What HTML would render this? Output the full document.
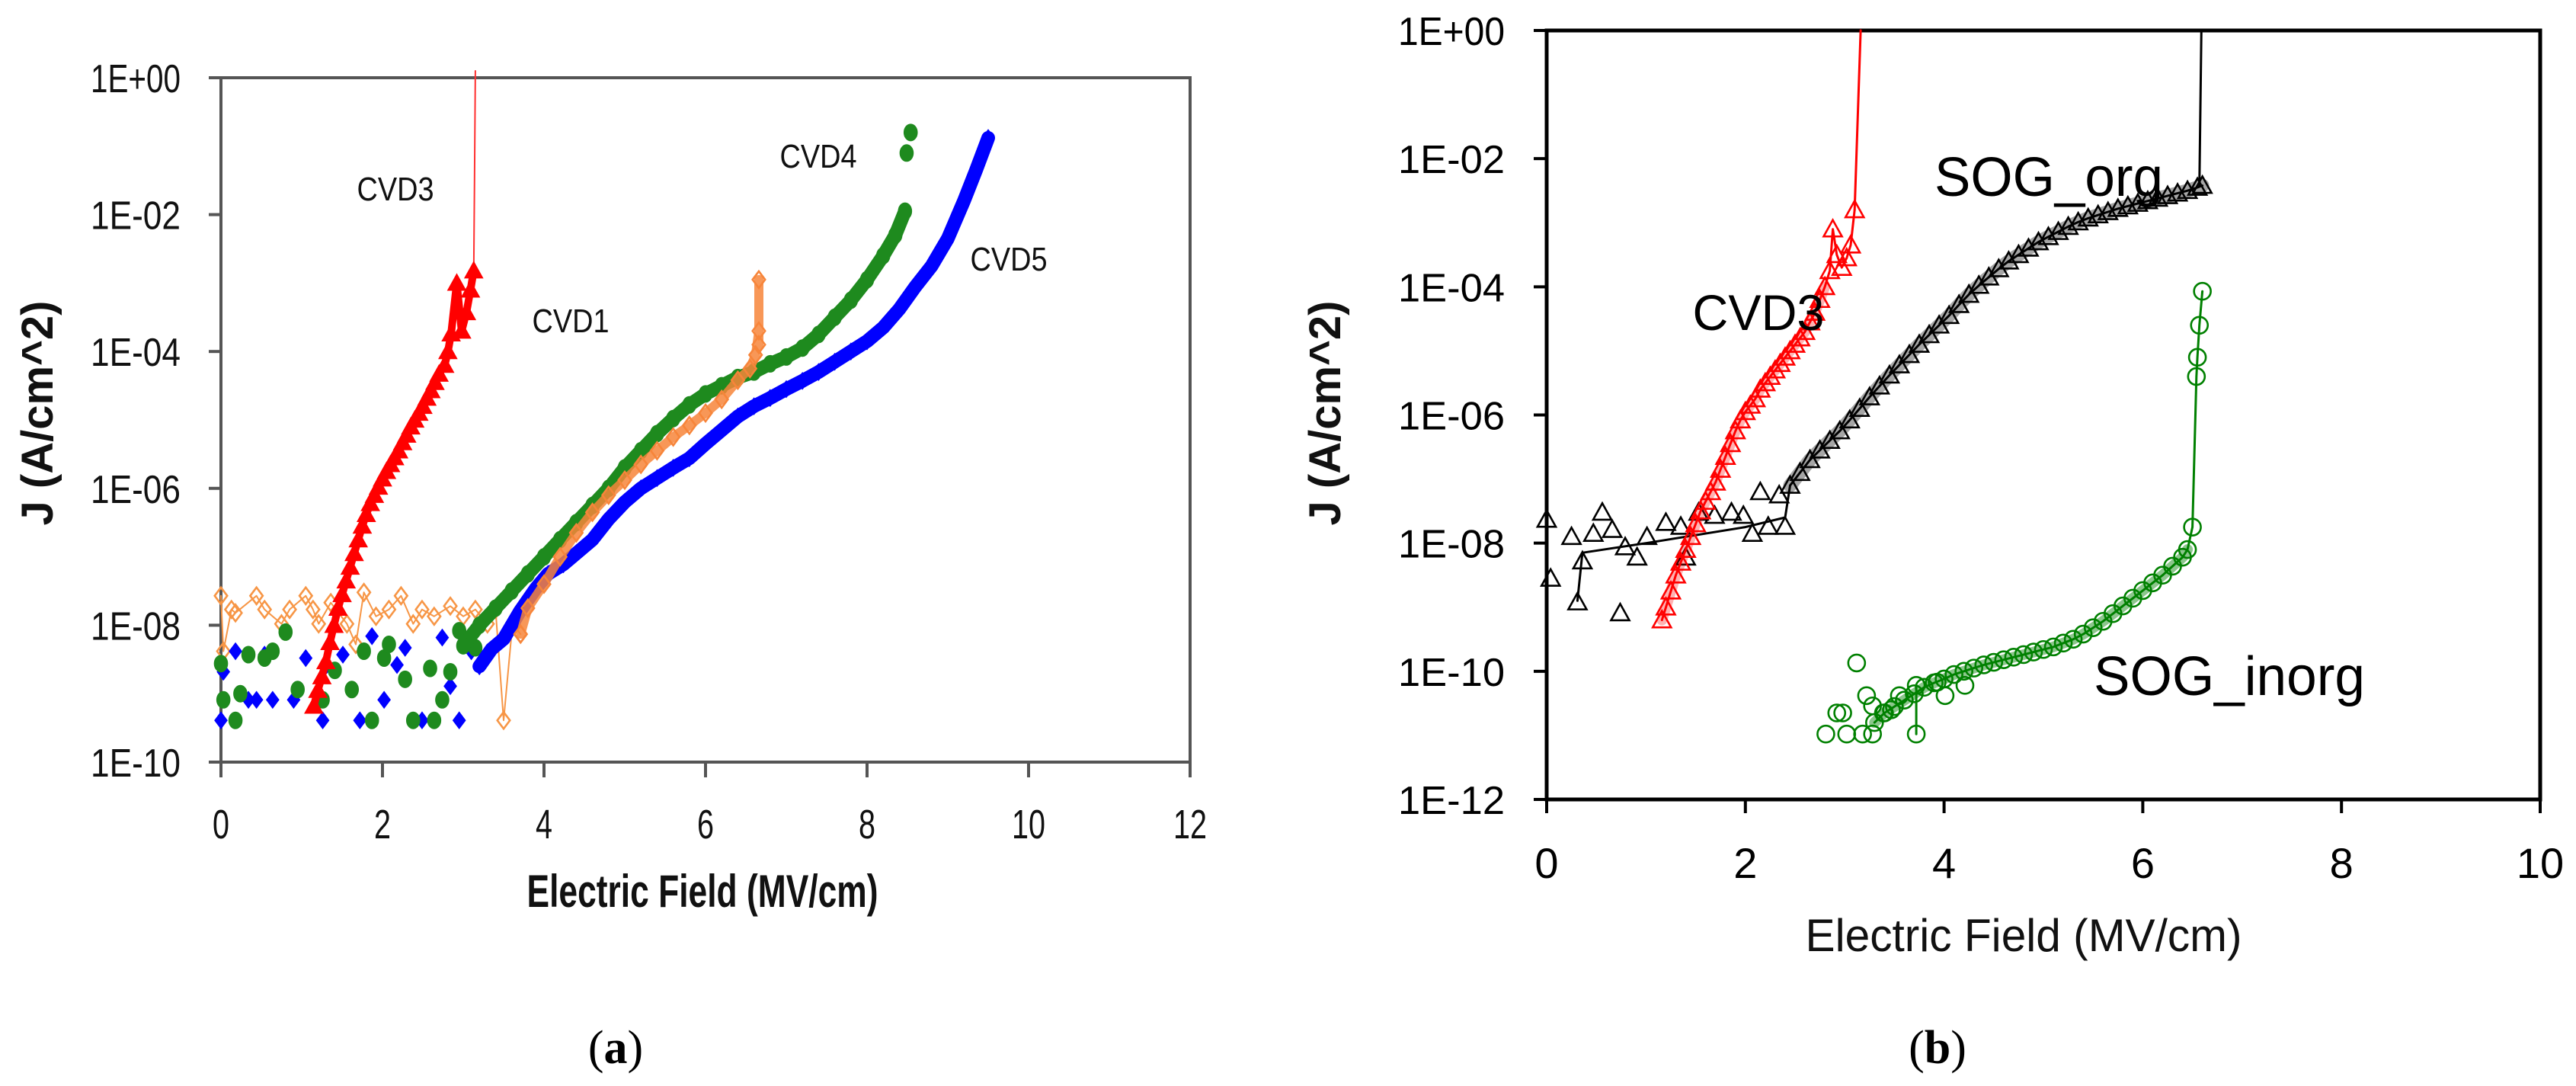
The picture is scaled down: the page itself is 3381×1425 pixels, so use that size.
<!DOCTYPE html>
<html><head><meta charset="utf-8"><style>html,body{margin:0;padding:0;background:#fff}svg{display:block}</style></head>
<body>
<svg id="fig" width="3381" height="1425" viewBox="0 0 3381 1425" xmlns="http://www.w3.org/2000/svg" font-family="'Liberation Sans', sans-serif">
<rect width="3381" height="1425" fill="#fff"/>
<g id="pa"></g>
<g id="pb"></g>
<text x="808" y="1395" text-anchor="middle" font-family="'Liberation Serif', serif" font-size="62">(<tspan font-weight="bold">a</tspan>)</text>
<text x="2543" y="1395" text-anchor="middle" font-family="'Liberation Serif', serif" font-size="62">(<tspan font-weight="bold">b</tspan>)</text>
</svg>
<script>
// ---------- Panel A data ----------
const aXTicks = [0,2,4,6,8,10,12];
const aYTicks = [0,-2,-4,-6,-8,-10];
const aYTickLabels = ["1E+00","1E-02","1E-04","1E-06","1E-08","1E-10"];
const aCvd3 = [[1.15,-9.18],[1.2,-8.95],[1.25,-8.75],[1.3,-8.53],[1.35,-8.25],[1.4,-8.0],[1.45,-7.75],[1.5,-7.55],[1.55,-7.35],[1.6,-7.15],[1.65,-6.95],[1.7,-6.75],[1.75,-6.55],[1.8,-6.38],[1.85,-6.22],[1.9,-6.1],[1.95,-5.98],[2.0,-5.86],[2.05,-5.75],[2.1,-5.65],[2.15,-5.55],[2.2,-5.45],[2.25,-5.33],[2.3,-5.22],[2.35,-5.1],[2.4,-5.0],[2.45,-4.9],[2.5,-4.8],[2.55,-4.68],[2.6,-4.57],[2.65,-4.45],[2.7,-4.33],[2.77,-4.2],[2.81,-4.0],[2.85,-3.74],[2.92,-3.0],[2.98,-3.7],[3.04,-3.43],[3.09,-3.1],[3.13,-2.82]];
const aCvd3Tail = [[3.13,-2.82],[3.14,-1.5],[3.15,0.1]];
const aCvd4Noise = [[0,-8.56],[0.03,-9.09],[0.18,-9.39],[0.24,-9.0],[0.34,-8.43],[0.54,-8.48],[0.64,-8.38],[0.8,-8.1],[0.95,-8.94],[1.26,-9.09],[1.41,-8.66],[1.62,-8.94],[1.77,-8.38],[1.87,-9.39],[2.02,-8.48],[2.08,-8.28],[2.28,-8.79],[2.38,-9.39],[2.59,-8.63],[2.64,-9.39],[2.74,-9.09],[2.84,-8.68],[2.95,-8.08],[3.15,-8.33]];
const aCvd4 = [[3.0,-8.3],[3.2,-8.0],[3.4,-7.75],[3.6,-7.5],[3.8,-7.25],[4.0,-7.0],[4.2,-6.75],[4.4,-6.5],[4.6,-6.25],[4.8,-6.0],[5.0,-5.7],[5.2,-5.45],[5.4,-5.2],[5.6,-4.98],[5.8,-4.78],[6.0,-4.62],[6.2,-4.5],[6.4,-4.38],[6.6,-4.3],[6.8,-4.18],[7.0,-4.08],[7.2,-3.95],[7.4,-3.75],[7.6,-3.5],[7.8,-3.25],[8.0,-2.95],[8.2,-2.6],[8.35,-2.3],[8.47,-1.95]];
const aCvd4Top = [[8.49,-1.1],[8.54,-0.8]];
const aCvd5Noise = [[0,-9.39],[0.03,-8.68],[0.18,-8.38],[0.34,-9.09],[0.44,-9.09],[0.54,-8.43],[0.64,-9.09],[0.9,-9.09],[1.05,-8.48],[1.26,-9.39],[1.31,-8.58],[1.51,-8.43],[1.72,-9.39],[1.87,-8.16],[2.02,-9.09],[2.18,-8.58],[2.28,-8.33],[2.49,-9.39],[2.74,-8.18],[2.84,-8.89],[2.95,-9.39],[3.1,-8.38]];
const aCvd5 = [[3.2,-8.6],[3.35,-8.35],[3.5,-8.2],[3.7,-7.8],[3.9,-7.46],[4.05,-7.25],[4.24,-7.11],[4.4,-6.95],[4.6,-6.75],[4.8,-6.45],[5.0,-6.2],[5.2,-6.0],[5.4,-5.85],[5.6,-5.7],[5.8,-5.56],[6.0,-5.35],[6.2,-5.15],[6.4,-4.95],[6.6,-4.8],[6.8,-4.68],[7.0,-4.55],[7.2,-4.43],[7.4,-4.3],[7.6,-4.15],[7.8,-4.0],[8.0,-3.85],[8.2,-3.65],[8.4,-3.38],[8.6,-3.05],[8.8,-2.75],[9.0,-2.35],[9.2,-1.8],[9.35,-1.35],[9.5,-0.88]];
const aCvd1Noise = [[0,-7.57],[0.03,-8.38],[0.13,-7.77],[0.18,-7.82],[0.44,-7.57],[0.54,-7.77],[0.75,-7.98],[0.85,-7.77],[1.05,-7.57],[1.14,-7.77],[1.21,-7.98],[1.36,-7.67],[1.56,-7.98],[1.67,-8.28],[1.77,-7.52],[1.92,-7.87],[2.08,-7.77],[2.23,-7.57],[2.38,-7.98],[2.49,-7.77],[2.64,-7.87],[2.84,-7.72],[3.0,-7.87],[3.15,-7.77],[3.3,-7.98],[3.4,-7.77],[3.5,-9.39],[3.61,-7.98],[3.71,-8.13]];
const aCvd1 = [[3.71,-8.13],[3.8,-7.75],[4.0,-7.4],[4.2,-7.0],[4.4,-6.65],[4.6,-6.35],[4.8,-6.1],[5.0,-5.88],[5.2,-5.65],[5.4,-5.45],[5.6,-5.25],[5.8,-5.08],[6.0,-4.9],[6.2,-4.7],[6.4,-4.42],[6.55,-4.25],[6.62,-4.05],[6.66,-3.7],[6.66,-2.95],[6.66,-3.9]];

// ---------- Panel B data ----------
const bXTicks = [0,2,4,6,8,10];
const bYTicks = [0,-2,-4,-6,-8,-10,-12];
const bYTickLabels = ["1E+00","1E-02","1E-04","1E-06","1E-08","1E-10","1E-12"];
const bCvd3 = [[1.16,-9.2],[1.2,-9.0],[1.25,-8.75],[1.3,-8.5],[1.35,-8.3],[1.4,-8.1],[1.45,-7.9],[1.5,-7.7],[1.55,-7.5],[1.6,-7.35],[1.65,-7.2],[1.7,-7.05],[1.75,-6.85],[1.8,-6.65],[1.85,-6.45],[1.9,-6.25],[1.95,-6.08],[2.0,-5.95],[2.05,-5.85],[2.1,-5.75],[2.15,-5.6],[2.2,-5.5],[2.25,-5.4],[2.3,-5.3],[2.35,-5.2],[2.4,-5.1],[2.45,-5.0],[2.5,-4.9],[2.55,-4.8],[2.6,-4.7],[2.65,-4.55],[2.7,-4.4],[2.75,-4.2],[2.8,-4.0],[2.85,-3.75],[2.88,-3.1],[2.92,-3.5],[2.97,-3.7],[3.02,-3.55],[3.06,-3.35],[3.1,-2.8]];
const bCvd3Tail = [[3.1,-2.8],[3.16,0]];
const bOrgNoise = [[0,-7.63],[0.04,-8.55],[0.25,-7.9],[0.31,-8.92],[0.36,-8.28],[0.47,-7.85],[0.56,-7.52],[0.66,-7.79],[0.74,-9.09],[0.79,-8.06],[0.91,-8.22],[1.01,-7.9],[1.2,-7.68],[1.35,-7.74],[1.4,-8.22],[1.53,-7.52],[1.69,-7.57],[1.86,-7.52],[1.98,-7.57],[2.07,-7.85],[2.15,-7.2],[2.23,-7.74],[2.34,-7.25],[2.4,-7.74]];
const bOrgFit = [[0.31,-8.9],[0.36,-8.15],[1.0,-8.0],[2.0,-7.75],[2.4,-7.6],[2.45,-7.1]];
const bOrg = [[2.45,-7.1],[2.55,-6.9],[2.65,-6.7],[2.75,-6.55],[2.85,-6.4],[2.95,-6.25],[3.05,-6.08],[3.15,-5.9],[3.25,-5.72],[3.35,-5.55],[3.45,-5.38],[3.55,-5.22],[3.65,-5.06],[3.75,-4.9],[3.85,-4.75],[3.95,-4.6],[4.05,-4.45],[4.15,-4.28],[4.25,-4.12],[4.35,-3.98],[4.45,-3.85],[4.55,-3.72],[4.65,-3.6],[4.75,-3.5],[4.85,-3.4],[4.95,-3.3],[5.05,-3.22],[5.15,-3.14],[5.25,-3.06],[5.35,-2.99],[5.45,-2.93],[5.55,-2.88],[5.65,-2.83],[5.75,-2.78],[5.85,-2.74],[5.95,-2.7],[6.05,-2.66],[6.15,-2.62],[6.25,-2.58],[6.35,-2.54],[6.45,-2.5],[6.55,-2.45],[6.6,-2.42]];
const bOrgTail = [[6.57,-2.42],[6.59,0]];
const bInorgNoise = [[2.81,-10.98],[2.92,-10.65],[2.98,-10.65],[3.02,-10.98],[3.12,-9.87],[3.18,-10.98],[3.22,-10.38],[3.28,-10.98],[3.28,-10.54],[3.39,-10.65],[3.47,-10.6],[3.55,-10.38],[3.72,-10.98],[3.72,-10.22],[3.93,-10.17],[4.01,-10.38],[4.21,-10.22]];
const bInorg = [[3.3,-10.8],[3.4,-10.65],[3.5,-10.55],[3.6,-10.45],[3.7,-10.35],[3.8,-10.25],[3.9,-10.18],[4.0,-10.12],[4.1,-10.05],[4.2,-10.0],[4.3,-9.95],[4.4,-9.9],[4.5,-9.86],[4.6,-9.82],[4.7,-9.78],[4.8,-9.74],[4.9,-9.7],[5.0,-9.66],[5.1,-9.62],[5.2,-9.56],[5.3,-9.5],[5.4,-9.42],[5.5,-9.32],[5.6,-9.22],[5.7,-9.1],[5.8,-8.98],[5.9,-8.86],[6.0,-8.74],[6.1,-8.62],[6.2,-8.5],[6.3,-8.36],[6.4,-8.22],[6.45,-8.1],[6.5,-7.75],[6.54,-5.4],[6.55,-5.1],[6.57,-4.6],[6.6,-4.07]];

const NS = "http://www.w3.org/2000/svg";
function mk(parent, tag, attrs, text) {
  const e = document.createElementNS(NS, tag);
  for (const k in attrs) e.setAttribute(k, attrs[k]);
  if (text !== undefined) e.textContent = text;
  parent.appendChild(e);
  return e;
}
const ax = v => 290 + v * (1562 - 290) / 12;
const ay = l => 102 + (-l) * (1000 - 102) / 10;
const bx = v => 2030 + v * (3334 - 2030) / 10;
const by = l => 40 + (-l) * (1049 - 40) / 12;

function polyline(g, pts, fx, fy, stroke, w, name, opacity) {
  const e = mk(g, "polyline", {points: pts.map(p => fx(p[0]).toFixed(1) + "," + fy(p[1]).toFixed(1)).join(" "), fill: "none", stroke: stroke, "stroke-width": w, "stroke-linejoin": "round", "stroke-linecap": "round", opacity: opacity || 1});
  
  
  return e;
}
function markers(g, pts, fx, fy, shape, color, size, filled, name) {
  const grp = mk(g, "g", {});
  
  
  pts.forEach(p => {
    const x = fx(p[0]), y = fy(p[1]), s = size / 2;
    let e;
    const st = filled ? {fill: color, stroke: color, "stroke-width": 1} : {fill: "none", stroke: color, "stroke-width": 2.6};
    if (shape === "tri") e = mk(grp, "polygon", Object.assign({points: `${x},${y - s} ${x - s},${y + s * 0.8} ${x + s},${y + s * 0.8}`}, st));
    else if (shape === "dia") e = mk(grp, "polygon", Object.assign({points: `${x},${y - s} ${x + s * 0.75},${y} ${x},${y + s} ${x - s * 0.75},${y}`}, st));
    else if (shape === "oct") e = mk(grp, "ellipse", Object.assign({cx: x, cy: y, rx: s * 0.8, ry: s}, st));
    else e = mk(grp, "circle", Object.assign({cx: x, cy: y, r: s}, st));
    
    
  });
}

// ---------- Panel A ----------
const pa = document.getElementById("pa");
const frameA = mk(pa, "rect", {x: 290, y: 102, width: 1272, height: 898, fill: "none", stroke: "#555", "stroke-width": 4});


aYTicks.forEach((t, i) => {
  const l = mk(pa, "line", {x1: 274, x2: 290, y1: ay(t), y2: ay(t), stroke: "#555", "stroke-width": 4});
  
  
  const tx = mk(pa, "text", {x: 237, y: ay(t) + 19, "text-anchor": "end", "font-size": 52, textLength: 118, lengthAdjust: "spacingAndGlyphs", fill: "#111"}, aYTickLabels[i]);
  
  
});
aXTicks.forEach(t => {
  const l = mk(pa, "line", {x1: ax(t), x2: ax(t), y1: 1000, y2: 1020, stroke: "#555", "stroke-width": 4});
  
  
  const s = String(t);
  const tx = mk(pa, "text", {x: ax(t), y: 1100, "text-anchor": "middle", "font-size": 54, textLength: s.length * 22, lengthAdjust: "spacingAndGlyphs", fill: "#111"}, s);
  
  
});
const axt = mk(pa, "text", {x: 922, y: 1190, "text-anchor": "middle", "font-size": 60, "font-weight": "bold", textLength: 461, lengthAdjust: "spacingAndGlyphs", fill: "#111"}, "Electric Field (MV/cm)");


const ayt = mk(pa, "text", {x: 0, y: 0, transform: "translate(69,542) rotate(-90)", "text-anchor": "middle", "font-size": 58, "font-weight": "bold", textLength: 295, lengthAdjust: "spacingAndGlyphs", fill: "#111"}, "J (A/cm^2)");



polyline(pa, aCvd1Noise, ax, ay, "#f79646", 2, "cvd1-noise-line");
markers(pa, aCvd1Noise, ax, ay, "dia", "#f79646", 22, false, "cvd1-noise-markers");
markers(pa, aCvd5Noise, ax, ay, "dia", "#0000ff", 22, true, "cvd5-noise-markers");
markers(pa, aCvd4Noise, ax, ay, "oct", "#1e8a1e", 22, true, "cvd4-noise-markers");
polyline(pa, aCvd5, ax, ay, "#0000ff", 18, "cvd5-band");
markers(pa, aCvd5, ax, ay, "dia", "#0000ff", 22, true, "cvd5-markers");
polyline(pa, aCvd4, ax, ay, "#1e8a1e", 18, "cvd4-band");
markers(pa, aCvd4, ax, ay, "oct", "#1e8a1e", 22, true, "cvd4-markers");
markers(pa, aCvd4Top, ax, ay, "oct", "#1e8a1e", 22, true, "cvd4-top-markers");
polyline(pa, aCvd1, ax, ay, "#f7853a", 12, "cvd1-band", 0.85);
markers(pa, aCvd1, ax, ay, "dia", "#f7853a", 22, false, "cvd1-markers");
polyline(pa, aCvd3Tail, ax, ay, "#ff3030", 2, "cvd3-breakdown-line");
polyline(pa, aCvd3, ax, ay, "#ff0000", 10, "cvd3-band");
markers(pa, aCvd3, ax, ay, "tri", "#ff0000", 24, true, "cvd3-markers");

[["CVD3", 519, 263, "cvd3-label"], ["CVD4", 1074, 220, "cvd4-label"], ["CVD5", 1324, 355, "cvd5-label"], ["CVD1", 749, 436, "cvd1-label"]].forEach(a => {
  const t = mk(pa, "text", {x: a[1], y: a[2], "text-anchor": "middle", "font-size": 44, textLength: 101, lengthAdjust: "spacingAndGlyphs", fill: "#111"}, a[0]);
  
  
});

// ---------- Panel B ----------
const pb = document.getElementById("pb");
const frameB = mk(pb, "rect", {x: 2030, y: 40, width: 1304, height: 1009, fill: "none", stroke: "#000", "stroke-width": 5});


bYTicks.forEach((t, i) => {
  const l = mk(pb, "line", {x1: 2013, x2: 2030, y1: by(t), y2: by(t), stroke: "#000", "stroke-width": 4});
  
  
  const tx = mk(pb, "text", {x: 1975, y: by(t) + 19, "text-anchor": "end", "font-size": 52, textLength: 140, lengthAdjust: "spacingAndGlyphs", fill: "#000"}, bYTickLabels[i]);
  
  
});
bXTicks.forEach(t => {
  const l = mk(pb, "line", {x1: bx(t), x2: bx(t), y1: 1049, y2: 1067, stroke: "#000", "stroke-width": 4});
  
  
  const s = String(t);
  const tx = mk(pb, "text", {x: bx(t), y: 1152, "text-anchor": "middle", "font-size": 56, fill: "#000"}, s);
  
  
});
const bxt = mk(pb, "text", {x: 2656, y: 1248, "text-anchor": "middle", "font-size": 60, textLength: 573, lengthAdjust: "spacingAndGlyphs", fill: "#111"}, "Electric Field (MV/cm)");


const byt = mk(pb, "text", {x: 0, y: 0, transform: "translate(1759,542) rotate(-90)", "text-anchor": "middle", "font-size": 58, "font-weight": "bold", textLength: 295, lengthAdjust: "spacingAndGlyphs", fill: "#111"}, "J (A/cm^2)");



polyline(pb, bOrgFit, bx, by, "#000", 3, "sog-org-fit-line");
markers(pb, bOrgNoise, bx, by, "tri", "#000", 24, false, "sog-org-noise-markers");
polyline(pb, bOrg, bx, by, "#000", 18, "sog-org-band", 0.35);
polyline(pb, bOrg, bx, by, "#000", 3, "sog-org-line");
markers(pb, bOrg, bx, by, "tri", "#000", 24, false, "sog-org-markers");
polyline(pb, bOrgTail, bx, by, "#000", 3, "sog-org-breakdown-line");
polyline(pb, bCvd3.slice(0, 34), bx, by, "#ff0000", 14, "cvd3-band", 0.3);
polyline(pb, bCvd3, bx, by, "#ff0000", 3, "cvd3-line");
markers(pb, bCvd3, bx, by, "tri", "#ff0000", 24, false, "cvd3-markers");
polyline(pb, bCvd3Tail, bx, by, "#ff0000", 3, "cvd3-breakdown-line");
polyline(pb, bInorgNoise.slice(12, 14), bx, by, "#008000", 3, "sog-inorg-spike-line");
markers(pb, bInorgNoise, bx, by, "circ", "#008000", 22, false, "sog-inorg-noise-markers");
polyline(pb, bInorg.slice(0, 33), bx, by, "#008000", 14, "sog-inorg-band", 0.45);
polyline(pb, bInorg, bx, by, "#008000", 3, "sog-inorg-line");
markers(pb, bInorg, bx, by, "circ", "#008000", 22, false, "sog-inorg-markers");

[["SOG_org", 2689, 257, 300, 72, "sog-org-label"], ["CVD3", 2308, 433, 173, 66, "cvd3-label"], ["SOG_inorg", 2926, 912, 356, 72, "sog-inorg-label"]].forEach(a => {
  const t = mk(pb, "text", {x: a[1], y: a[2], "text-anchor": "middle", "font-size": a[4], textLength: a[3], lengthAdjust: "spacingAndGlyphs", fill: "#000"}, a[0]);
  
  
});
</script>
</body></html>
